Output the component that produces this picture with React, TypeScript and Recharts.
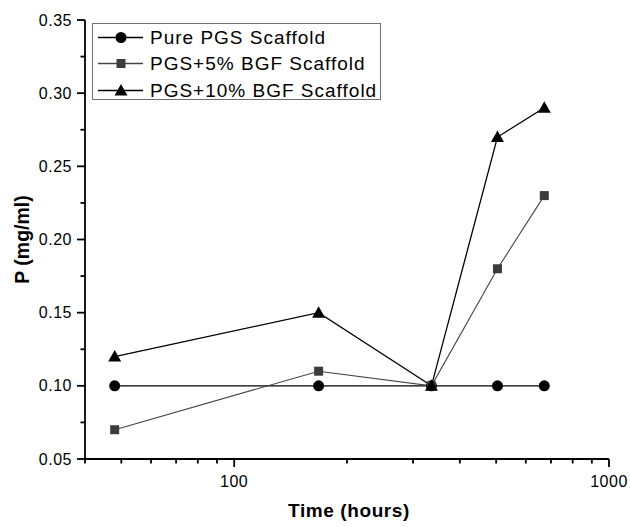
import React from "react";
import { ComposedChart, Line, XAxis, YAxis, Legend } from "recharts";

const hours = [48, 168, 336, 504, 672];
const purePGS = [0.1, 0.1, 0.1, 0.1, 0.1];
const pgs5BGF = [0.07, 0.11, 0.1, 0.18, 0.23];
const pgs10BGF = [0.12, 0.15, 0.1, 0.27, 0.29];

const xTicks = [40, 50, 60, 70, 80, 90, 100, 200, 300, 400, 500, 600, 700, 800, 900, 1000];
const xLabels = [100, 1000];
const yTicks = [0.05, 0.075, 0.1, 0.125, 0.15, 0.175, 0.2, 0.225, 0.25, 0.275, 0.3, 0.325, 0.35];

const seriesNames = ["Pure PGS Scaffold", "PGS+5% BGF Scaffold", "PGS+10% BGF Scaffold"];

const data = hours.map((h, i) => ({
  hours: h,
  pure: purePGS[i],
  bgf5: pgs5BGF[i],
  bgf10: pgs10BGF[i],
}));

const FONT = "'Liberation Sans', Arial, Helvetica, sans-serif";

function Circle({ cx, cy }: any) {
  return <circle cx={cx} cy={cy} r={5.5} fill="#000" />;
}
function Square({ cx, cy }: any) {
  return <rect x={cx - 4.5} y={cy - 4.5} width={9} height={9} fill="#3c3c3c" />;
}
function Triangle({ cx, cy }: any) {
  return <polygon points={`${cx},${cy - 6.5} ${cx + 6.5},${cy + 5} ${cx - 6.5},${cy + 5}`} fill="#000" />;
}

// custom ticks: long marks + labels on majors, short marks on minors
const renderXTick = ({ x, y, payload }: any) => {
  const major = xLabels.includes(payload.value);
  return (
    <g key={`xt${payload.value}`}>
      <rect x={x - 0.9} y={y} width={1.8} height={major ? 8 : 4.5} fill="#000" />
      {major && (
        <text x={x} y={y + 28} textAnchor="middle" fontSize={16} letterSpacing={0.5} fontFamily={FONT} fill="#000">
          {payload.value}
        </text>
      )}
    </g>
  );
};

const renderYTick = ({ x, y, payload }: any) => {
  const major = Math.round(payload.value * 1000) % 50 === 0;
  const len = major ? 8 : 4.5;
  return (
    <g key={`yt${payload.value}`}>
      <rect x={x - len} y={y - 0.9} width={len} height={1.8} fill="#000" />
      {major && (
        <text x={x - 13} y={y + 5.5} textAnchor="end" fontSize={16} letterSpacing={0.5} fontFamily={FONT} fill="#000">
          {payload.value.toFixed(2)}
        </text>
      )}
    </g>
  );
};

const markers = [Circle, Square, Triangle];
const lineColors = ["#000", "#444", "#000"];

function LegendBox() {
  return (
    <div
      style={{
        border: "1px solid #6e6e6e",
        width: 289,
        height: 77,
        boxSizing: "border-box",
        fontFamily: FONT,
        fontSize: 19,
        letterSpacing: 1,
        background: "#fff",
      }}
    >
      {seriesNames.map((name, i) => {
        const M = markers[i];
        return (
          <div key={name} style={{ height: 26.5, display: "flex", alignItems: "center" }}>
            <svg width={57} height={27} style={{ display: "block", flex: "none" }}>
              <line x1={5} x2={50} y1={13.5} y2={13.5} stroke={lineColors[i]} strokeWidth={1.3} />
              <M cx={28} cy={13.5} />
            </svg>
            <span style={{ color: "#000", lineHeight: "27px", whiteSpace: "nowrap" }}>{name}</span>
          </div>
        );
      })}
    </div>
  );
}

export default function App() {
  return (
    <div style={{ position: "fixed", left: 0, top: 0, width: 630, height: 527, background: "#fff" }}>
      <ComposedChart width={630} height={527} data={data} margin={{ top: 20, right: 21, left: 0, bottom: 0 }}>
        <XAxis
          dataKey="hours"
          type="number"
          scale="log"
          domain={[40, 1000]}
          allowDataOverflow
          ticks={xTicks}
          interval={0}
          tickSize={0}
          tickMargin={0}
          tickLine={false}
          tick={renderXTick}
          height={68}
          axisLine={{ stroke: "#000", strokeWidth: 1.8 }}
          label={({ viewBox }: any) => (
            <text
              x={viewBox.x + viewBox.width / 2 + 2}
              y={517}
              textAnchor="middle"
              fontSize={19}
              letterSpacing={0.6}
              fontWeight="bold"
              fontFamily={FONT}
              fill="#000"
            >
              Time (hours)
            </text>
          )}
        />
        {/* top and right axes only draw the frame */}
        <XAxis
          xAxisId="top"
          dataKey="hours"
          type="number"
          scale="log"
          domain={[40, 1000]}
          allowDataOverflow
          orientation="top"
          height={0}
          tick={false}
          tickLine={false}
          axisLine={{ stroke: "#000", strokeWidth: 1.8 }}
        />
        <YAxis
          type="number"
          domain={[0.05, 0.35]}
          ticks={yTicks}
          interval={0}
          width={85}
          tickSize={0}
          tickMargin={0}
          tickLine={false}
          tick={renderYTick}
          axisLine={{ stroke: "#000", strokeWidth: 1.8 }}
          label={({ viewBox }: any) => (
            <text
              x={29}
              y={viewBox.y + viewBox.height / 2}
              transform={`rotate(-90, 29, ${viewBox.y + viewBox.height / 2})`}
              textAnchor="middle"
              fontSize={19.5}
              fontWeight="bold"
              fontFamily={FONT}
              fill="#000"
            >
              P (mg/ml)
            </text>
          )}
        />
        <YAxis
          yAxisId="right"
          orientation="right"
          type="number"
          domain={[0.05, 0.35]}
          width={0}
          tick={false}
          tickLine={false}
          axisLine={{ stroke: "#000", strokeWidth: 1.8 }}
        />
        <Legend
          layout="horizontal"
          verticalAlign="middle"
          align="center"
          wrapperStyle={{ left: 92, top: 23, width: 289, height: 77 }}
          content={() => <LegendBox />}
        />
        <Line
          dataKey="pure"
          name={seriesNames[0]}
          stroke="#000"
          strokeWidth={1.3}
          dot={(p: any) => <Circle key={`c${p.index}`} cx={p.cx} cy={p.cy} />}
          isAnimationActive={false}
        />
        <Line
          dataKey="bgf5"
          name={seriesNames[1]}
          stroke="#444"
          strokeWidth={1.1}
          dot={(p: any) => <Square key={`s${p.index}`} cx={p.cx} cy={p.cy} />}
          isAnimationActive={false}
        />
        <Line
          dataKey="bgf10"
          name={seriesNames[2]}
          stroke="#000"
          strokeWidth={1.3}
          dot={(p: any) => <Triangle key={`t${p.index}`} cx={p.cx} cy={p.cy} />}
          isAnimationActive={false}
        />
      </ComposedChart>
    </div>
  );
}
